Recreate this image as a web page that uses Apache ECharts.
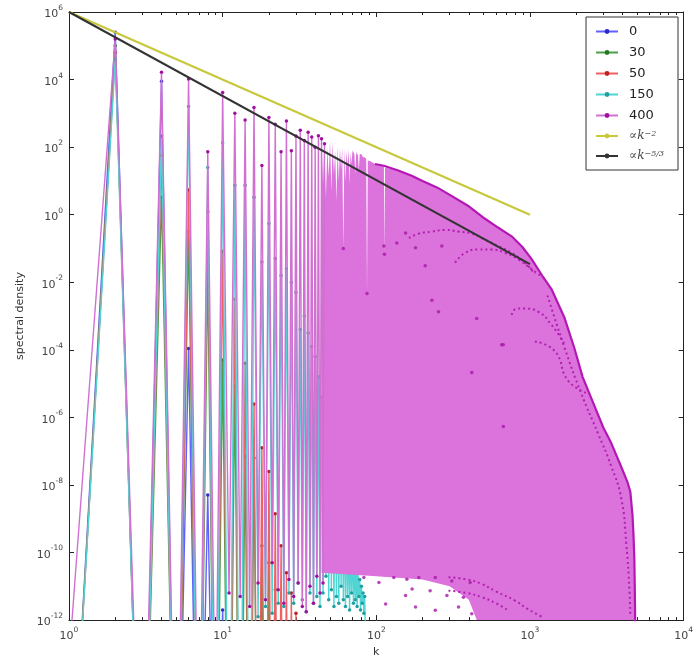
<!DOCTYPE html>
<html><head><meta charset="utf-8">
<script src="https://cdn.jsdelivr.net/npm/echarts@6/dist/echarts.min.js"></script>
<style>html,body{margin:0;padding:0;background:#fff}#c{width:696px;height:663px}</style>
</head><body><div id="c"></div>
<script>
// ---- tick labels (decades) ----
const xTickExps = [0, 1, 2, 3, 4];
const yTickExps = [-12, -10, -8, -6, -4, -2, 0, 2, 4, 6];

// ---- series values: log10(spectral density) for k = 1, 2, 3, ... ----
const s0Exp = [-19, 5.4, -21, 3.95, -21, -3.96, -21, -8.3, -21, -11.7, -21, -14, -21, -16];
const s30Exp = [-19, 5.0, -21, 0.52, -21, -0.5, -21, -1.6, -21, -4.3, -21, -5.07, -21, -7.15, -21, -7.2,
  -21, -9.8, -21, -10.3, -21, -11.1, -21, -12.5, -21, -14];
const s50Exp = [-19, 4.8, -21, 1.75, -21, 0.73, -21, 0.09, -21, -1.08, -21, -2.5, -21, -4.4, -21, -5.6,
  -21, -6.9, -21, -7.6, -21, -8.85, -21, -9.8, -21, -10.6, -21, -11.2, -21, -11.8, -21, -12.6, -21, -14];
const s150Exp = [-19, 4.6, -21, 2.33, -21, 3.2, -21, 1.4, -21, 2.13, -21, 0.87, -21, 0.87, -21, 0.52,
  -11.9, -1.4, -11.6, -0.26, -11.8, -1.3, -11.5, -1.8, -11.6, -1.6, -11.2, -2.0, -11.5, -2.3, -10.9, -3.4, -11.4, -3.0,
  -11.75, -3.5, -11.2, -3.9, -11.5, -4.2, -11.3, -4.8, -11.6, -5.4, -11.2, -5.0, -10.7, -5.6, -11.4, -5.3,
  -11.1, -6.66, -11.6, -7.2, -11.3, -7.4, -11.5, -7.5, -11.0, -7.7, -11.4, -8.4, -11.6, -8.7, -11.3, -9.1,
  -11.7, -9.3, -11.2, -9.5, -11.5, -9.96, -11.4, -10.3, -11.6, -10.6, -11.3, -10.8, -11.7, -11.0, -11.5, -11.2,
  -11.8, -11.3, -12.5, -13];
const s400Exp = [-13.2, 5.2, -20, 4.22, -20, 4.02, -18, 1.86, -16, 3.62, -11.2, 3.0, -11.3, 2.8, -11.6, 3.17,
  -10.9, 1.46, -11.4, 2.88, -10.3, 2.68, -11.1, 1.86, -11.5, 2.77, -10.8, 1.89, -11.3, 2.33, -10.9, 2.5,
  -11.6, 2.2, -11.75, 2.44, -11.0, 2.3, -11.5, 2.0, -10.7, 2.34, -11.2, 2.25, -10.9, 2.1];

// series 400, dense part (k >= 44): upper edge and lower edge of the filled region
const denseTopK = [44,45,46,47,48,49,50,51,52,53,54,55,56,57,58,59,60,61,62,63,64,65,66,67,68,69,70,72,73,74,76,77,78,80,82,84,86,87,88,90,94,98,112,113,114,139,170,200,250,295,400,510,620,760,890,1020,1200,1380,1680,1940,2200,2640,3000,3380,3900,4300,4500,4650,4720,4780,4810,4830,4850];
const denseTopE = [2.25,0.9,2.1,0.5,2.0,1.1,2.2,0.7,2.15,1.2,1.9,0.4,2.05,1.0,1.98,1.3,2.0,-1.0,1.96,1.0,1.9,1.4,1.95,0.9,1.85,1.5,1.9,1.8,1.2,1.85,1.75,1.3,1.8,1.79,1.7,1.7,1.65,-2.33,1.6,1.6,1.55,1.5,1.45,-1.17,1.4,1.31,1.15,1.0,0.8,0.61,0.25,-0.12,-0.38,-0.64,-0.95,-1.3,-1.8,-2.2,-3.06,-3.93,-4.8,-5.68,-6.3,-6.76,-7.43,-7.9,-8.2,-8.9,-9.5,-10.2,-11.0,-11.7,-13];
const denseBotK = [4850, 520, 460, 400, 300, 200, 100, 44];
const denseBotE = [-13, -13, -12.1, -11.4, -11.0, -10.8, -10.7, -10.6];

// dotted curves of points inside the dense region
const arcs = [
  {k:[163,189,230,281,343,418,510,623,760,927,1077], e:[-0.69,-0.56,-0.5,-0.45,-0.5,-0.56,-0.74,-0.93,-1.13,-1.42,-1.76]},
  {k:[326,379,462,564,688,839,1023,1250], e:[-1.42,-1.13,-1.03,-1.03,-1.13,-1.32,-1.61,-1.9]},
  {k:[760,818,927,1130,1380,1686], e:[-2.97,-2.78,-2.78,-2.87,-3.26,-3.85]},
  {k:[1077,1452,1771,2387], e:[-3.75,-4.04,-4.91,-5.3]},
  {k:[1300,1680,2160,2770,3380,3930,4240,4440,4500], e:[-2.39,-3.94,-5.3,-6.47,-7.44,-8.4,-9.77,-11.1,-11.9]},
  {k:[295,390,485,600,798,950,1189], e:[-10.73,-10.8,-10.93,-11.15,-11.42,-11.65,-11.9]},
  {k:[295,390,485,600,720], e:[-11.13,-11.2,-11.32,-11.5,-11.71]}
];
const dotK = [83,104,130,158,189,242,310,408,115,155,180,242,343,418,171,224,288,369,
  208,230,254,450,654,670,418,671,112,136,180,155,267,61,87,113];
const dotE = [-10.74,-10.89,-10.74,-10.79,-10.74,-10.74,-10.84,-10.89,-11.52,-11.27,-11.61,-11.71,-11.61,-11.81,-11.08,-11.13,-11.27,-11.32,
  -1.51,-2.53,-2.87,-3.07,-3.85,-3.85,-4.67,-6.27,-0.93,-0.84,-0.98,-0.54,-0.93,-1.0,-2.33,-1.17];

// reference power laws
const refK = [1, 1000];
const refK2Exp = [6, 0];
const refK53Exp = [6, -1.46];

// ---- build ----
const P = e => Math.pow(10, e);
const seq = arr => arr.map((e, i) => [i + 1, P(e)]);
const zip = (ks, es) => ks.map((k, i) => [k, P(es[i])]);

const polyData = zip(denseTopK, denseTopE).concat(zip(denseBotK, denseBotE));

function expLabel(v) {
  const e = Math.round(Math.log10(v));
  return '{b|10}{s|' + (e < 0 ? '-' + (-e) : e) + '}';
}
const labelRich = {
  b: {fontSize: 11, color: '#444', fontFamily: 'DejaVu Sans', lineHeight: 16, verticalAlign: 'bottom'},
  s: {fontSize: 7.5, color: '#444', fontFamily: 'DejaVu Sans', lineHeight: 9, verticalAlign: 'top'}
};

function lineSeries(name, data, line, dot, z) {
  return {
    name, type: 'line', data, symbol: 'circle', symbolSize: 3.5, showSymbol: true,
    lineStyle: {color: line, width: 1.4}, itemStyle: {color: dot}, clip: true, z: z,
    emphasis: {disabled: true}, animation: false
  };
}

const series = [
  lineSeries('0', seq(s0Exp), '#6060ff', '#2a2ad0', 2),
  lineSeries('30', seq(s30Exp), '#4aa04a', '#207a20', 3),
  lineSeries('50', seq(s50Exp), '#f06060', '#c02020', 4),
  lineSeries('150', seq(s150Exp), '#50d4d4', '#20a0a0', 5),
  {
    type: 'custom', data: polyData, silent: true, z: 6, animation: false,
    renderItem: (params, api) => {
      if (params.dataIndex !== 0) return null;
      const cs = params.coordSys;
      return {
        type: 'polygon',
        shape: {points: polyData.map(p => api.coord(p))},
        style: {fill: '#dc72dc', stroke: null},
        clipPath: {type: 'rect', shape: {x: cs.x, y: cs.y, width: cs.width, height: cs.height}}
      };
    }
  },
  {
    type: 'line', data: zip(denseTopK.slice(41), denseTopE.slice(41)).filter(p => p[0] !== 113), symbol: 'none',
    lineStyle: {color: '#b418b4', width: 2.2}, clip: true, z: 7, silent: true, animation: false
  },
  lineSeries('400', seq(s400Exp), '#d070d0', '#a010a0', 8)
];
arcs.forEach(a => series.push({
  type: 'line', data: zip(a.k, a.e), symbol: 'none', smooth: true, silent: true, clip: true, z: 8,
  lineStyle: {color: '#b020b0', width: 2, type: [2, 3]}, animation: false
}));
series.push({
  type: 'scatter', data: zip(dotK, dotE), symbolSize: 3.5, itemStyle: {color: '#a818a8'},
  silent: true, clip: true, z: 8, animation: false
});
series.push({
  name: 'k2', type: 'line', data: zip(refK, refK2Exp), symbol: 'none',
  lineStyle: {color: '#c8c83c', width: 2.2}, itemStyle: {color: '#c8c83c'}, z: 9, animation: false
});
series.push({
  name: 'k53', type: 'line', data: zip(refK, refK53Exp), symbol: 'none',
  lineStyle: {color: '#333333', width: 2}, itemStyle: {color: '#333333'}, z: 10, animation: false
});

const axisCommon = {
  type: 'log', logBase: 10,
  axisLine: {show: true, onZero: false, lineStyle: {color: '#222', width: 1}},
  axisTick: {show: true, inside: true, length: 5, lineStyle: {color: '#222'}},
  splitLine: {show: false}
};
const xMinor = {show: true, splitNumber: 9, length: 3, lineStyle: {color: '#222'}};

const option = {
  animation: false,
  backgroundColor: '#fff',
  grid: {left: 69, right: 10, top: 12, bottom: 33},
  xAxis: [
    Object.assign({}, axisCommon, {
      min: P(xTickExps[0]), max: P(xTickExps[xTickExps.length - 1]), interval: 1, position: 'bottom',
      name: 'k', nameLocation: 'middle', nameGap: 22,
      nameTextStyle: {fontSize: 11, color: '#333', fontFamily: 'DejaVu Sans'},
      axisLabel: {formatter: expLabel, rich: labelRich, margin: 6},
      minorTick: xMinor
    }),
    Object.assign({}, axisCommon, {
      min: P(xTickExps[0]), max: P(xTickExps[xTickExps.length - 1]), interval: 1, position: 'top',
      axisLabel: {show: false},
      minorTick: xMinor
    })
  ],
  yAxis: [
    Object.assign({}, axisCommon, {
      min: P(yTickExps[0]), max: P(yTickExps[yTickExps.length - 1]), interval: 2, position: 'left',
      name: 'spectral density', nameLocation: 'middle', nameGap: 38,
      nameTextStyle: {fontSize: 11, color: '#333', fontFamily: 'DejaVu Sans'},
      axisLabel: {formatter: expLabel, rich: labelRich, margin: 6}
    }),
    Object.assign({}, axisCommon, {
      min: P(yTickExps[0]), max: P(yTickExps[yTickExps.length - 1]), interval: 2, position: 'right',
      axisLabel: {show: false}
    })
  ],
  legend: {
    data: ['0', '30', '50', '150', '400', 'k2', 'k53'],
    orient: 'vertical', right: 18, top: 17,
    backgroundColor: '#fff', borderColor: '#333', borderWidth: 1, borderRadius: 0,
    padding: [8, 14, 8, 9], itemGap: 8, itemWidth: 22, itemHeight: 6,
    selectedMode: false,
    textStyle: {
      fontSize: 13, color: '#222', fontFamily: 'DejaVu Sans', padding: [0, 0, 0, 6],
      rich: {
        m: {fontSize: 12, fontFamily: 'DejaVu Serif', color: '#444'},
        i: {fontSize: 12, fontFamily: 'DejaVu Serif', fontStyle: 'italic', color: '#444'},
        s: {fontSize: 8, fontFamily: 'DejaVu Serif', fontStyle: 'italic', color: '#444', verticalAlign: 'top', lineHeight: 8}
      }
    },
    formatter: n => n === 'k2' ? '{m|∝}{i|k}{s|−2}' : (n === 'k53' ? '{m|∝}{i|k}{s|−5/3}' : n)
  },
  series
};

const chart = echarts.init(document.getElementById('c'), null, {renderer: 'canvas'});
chart.setOption(option);
</script>
</body></html>
